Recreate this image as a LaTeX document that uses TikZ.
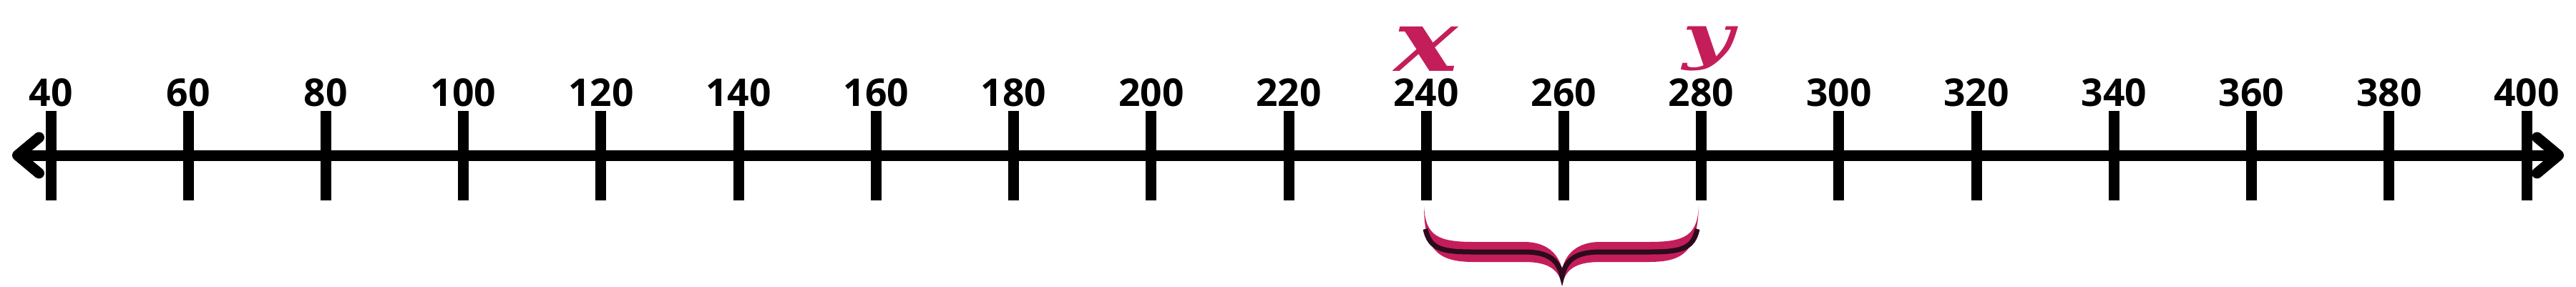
\documentclass[tikz,border=0pt]{standalone}
\usepackage{fontspec}
\usepackage{graphicx}
\setsansfont{Open Sans}
\newfontfamily\varfont{DejaVu Serif}
\usetikzlibrary{arrows.meta}

\definecolor{crimson}{RGB}{196,30,90}
\definecolor{bracedark}{RGB}{45,10,30}

\begin{document}
\begin{tikzpicture}[
        axisline/.style={line width=0.15cm,line cap=round,line join=round,
            {Straight Barb[length=0.3cm,width=0.5cm,line cap=round,line join=round]}-{Straight Barb[length=0.3cm,width=0.5cm,line cap=round,line join=round]}},
        tickmark/.style={line width=0.15cm},
        numlabel/.style={anchor=south,inner sep=0pt,font=\sffamily\bfseries\fontsize{15.2}{18}\selectfont},
        varlabel/.style={anchor=south,inner sep=0pt,text=crimson,font=\varfont\bfseries\itshape}]
    \useasboundingbox (0,0) rectangle (36,4);

    % Axis with arrows at both ends
    \coordinate (la) at (0.17,1.83);
    \coordinate (ra) at (35.83,1.83);
    \draw[axisline] (la) -- (ra);

    % Ticks and their numbers
    \foreach \i in {0,...,18} {
        \pgfmathtruncatemacro{\val}{40+20*\i}
        \coordinate (t\val) at ({0.71+1.9222*\i},1.83);
        \draw[tickmark] ({0.71+1.9222*\i},2.45) -- ({0.71+1.9222*\i},1.20);
        \node[numlabel] (n\val) at ({0.71+1.9222*\i},2.50) {\val};
    }

    % Variables above 240 and 280
    \node[varlabel] (vx) at (19.93,3.00) {\resizebox*{0.89cm}{0.62cm}{x}};
    \node[varlabel] (vy) at (23.87,3.00) {\resizebox*{0.71cm}{0.62cm}{y}};

    % Brace under the interval
    \coordinate (bl) at (19.90,1.12);
    \coordinate (br) at (23.74,1.12);
    \coordinate (bt) at (21.83,0.02);
    \fill[crimson]
        (bl) .. controls (19.92,0.70) and (20.10,0.62) .. (20.60,0.62)
        -- (21.30,0.62) .. controls (21.62,0.62) and (21.78,0.45) .. (21.83,0.24)
        .. controls (21.88,0.45) and (22.04,0.62) .. (22.36,0.62)
        -- (23.04,0.62) .. controls (23.54,0.62) and (23.72,0.70) .. (br)
        .. controls (23.72,0.48) and (23.52,0.34) .. (23.04,0.34)
        -- (22.36,0.34) .. controls (22.04,0.34) and (21.88,0.25) .. (bt)
        .. controls (21.78,0.25) and (21.62,0.34) .. (21.30,0.34)
        -- (20.60,0.34) .. controls (20.12,0.34) and (19.90,0.48) .. (bl) -- cycle;
    \draw[bracedark,line width=0.07cm]
        (19.92,0.80) .. controls (19.98,0.52) and (20.15,0.48) .. (20.60,0.48)
        -- (21.30,0.48) .. controls (21.65,0.48) and (21.78,0.36) .. (21.83,0.14)
        .. controls (21.88,0.36) and (22.01,0.48) .. (22.36,0.48)
        -- (23.04,0.48) .. controls (23.49,0.48) and (23.66,0.52) .. (23.72,0.80);
\end{tikzpicture}
\end{document}
